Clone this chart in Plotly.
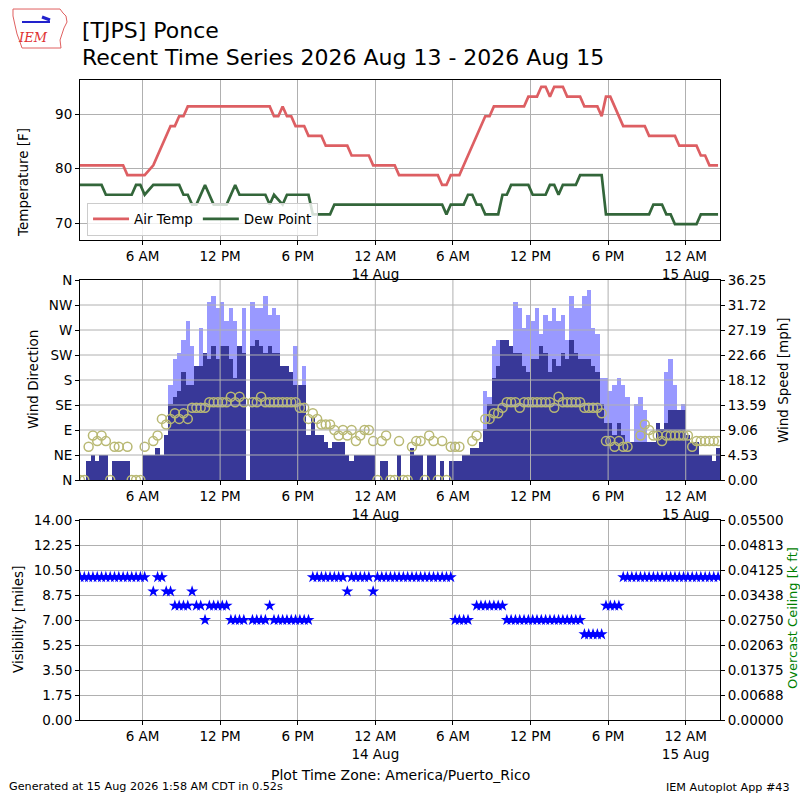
import pandas as pd
import plotly.graph_objects as go

# station reports come every 20 minutes, first one at 01:10 local time
obs_start = "2026-08-13 01:10"
obs_count = 149

# air temperature and dew point, only the times where the value changes [F]
temp_times = [
    "2026-08-13 01:10", "2026-08-13 04:30", "2026-08-13 04:50", "2026-08-13 06:10",
    "2026-08-13 06:50", "2026-08-13 07:10", "2026-08-13 07:30", "2026-08-13 07:50",
    "2026-08-13 08:10", "2026-08-13 08:30", "2026-08-13 08:50", "2026-08-13 09:10",
    "2026-08-13 09:30", "2026-08-13 15:50", "2026-08-13 16:10", "2026-08-13 16:30",
    "2026-08-13 16:50", "2026-08-13 17:10", "2026-08-13 17:30", "2026-08-13 17:50",
    "2026-08-13 18:30", "2026-08-13 18:50", "2026-08-13 19:50", "2026-08-13 20:10",
    "2026-08-13 21:50", "2026-08-13 22:10", "2026-08-13 23:30", "2026-08-13 23:50",
    "2026-08-14 01:30", "2026-08-14 01:50", "2026-08-14 04:50", "2026-08-14 05:10",
    "2026-08-14 05:30", "2026-08-14 05:50", "2026-08-14 06:30", "2026-08-14 06:50",
    "2026-08-14 07:10", "2026-08-14 07:30", "2026-08-14 07:50", "2026-08-14 08:10",
    "2026-08-14 08:30", "2026-08-14 08:50", "2026-08-14 09:10", "2026-08-14 11:30",
    "2026-08-14 11:50", "2026-08-14 12:30", "2026-08-14 12:50", "2026-08-14 13:10",
    "2026-08-14 13:30", "2026-08-14 13:50", "2026-08-14 14:30", "2026-08-14 14:50",
    "2026-08-14 15:50", "2026-08-14 16:10", "2026-08-14 17:10", "2026-08-14 17:30",
    "2026-08-14 17:50", "2026-08-14 18:10", "2026-08-14 18:30", "2026-08-14 18:50",
    "2026-08-14 19:10", "2026-08-14 20:50", "2026-08-14 21:10", "2026-08-14 23:10",
    "2026-08-14 23:30", "2026-08-15 00:50", "2026-08-15 01:10", "2026-08-15 01:30",
    "2026-08-15 01:50", "2026-08-15 02:30",
]
temp_vals = [
    80.6, 80.6, 78.8, 78.8, 80.6, 82.4, 84.2, 86.0, 87.8, 87.8, 89.6, 89.6,
    91.4, 91.4, 89.6, 89.6, 91.4, 89.6, 89.6, 87.8, 87.8, 86.0, 86.0, 84.2,
    84.2, 82.4, 82.4, 80.6, 80.6, 78.8, 78.8, 77.0, 77.0, 78.8, 78.8, 80.6,
    82.4, 84.2, 86.0, 87.8, 89.6, 89.6, 91.4, 91.4, 93.2, 93.2, 95.0, 95.0,
    93.2, 95.0, 95.0, 93.2, 93.2, 91.4, 91.4, 89.6, 93.2, 93.2, 91.4, 89.6,
    87.8, 87.8, 86.0, 86.0, 84.2, 84.2, 82.4, 82.4, 80.6, 80.6,
]

dewp_times = [
    "2026-08-13 01:10", "2026-08-13 02:50", "2026-08-13 03:10", "2026-08-13 05:10",
    "2026-08-13 05:30", "2026-08-13 05:50", "2026-08-13 06:10", "2026-08-13 06:50",
    "2026-08-13 08:50", "2026-08-13 09:10", "2026-08-13 09:30", "2026-08-13 09:50",
    "2026-08-13 10:10", "2026-08-13 10:50", "2026-08-13 11:30", "2026-08-13 12:30",
    "2026-08-13 13:10", "2026-08-13 13:30", "2026-08-13 15:30", "2026-08-13 15:50",
    "2026-08-13 16:10", "2026-08-13 16:50", "2026-08-13 17:10", "2026-08-13 18:50",
    "2026-08-13 19:10", "2026-08-13 20:30", "2026-08-13 20:50", "2026-08-14 05:10",
    "2026-08-14 05:30", "2026-08-14 05:50", "2026-08-14 06:50", "2026-08-14 07:10",
    "2026-08-14 07:30", "2026-08-14 07:50", "2026-08-14 08:10", "2026-08-14 08:30",
    "2026-08-14 09:30", "2026-08-14 09:50", "2026-08-14 10:10", "2026-08-14 10:30",
    "2026-08-14 11:50", "2026-08-14 12:10", "2026-08-14 13:10", "2026-08-14 13:30",
    "2026-08-14 13:50", "2026-08-14 14:10", "2026-08-14 14:30", "2026-08-14 15:30",
    "2026-08-14 15:50", "2026-08-14 17:30", "2026-08-14 17:50", "2026-08-14 21:10",
    "2026-08-14 21:30", "2026-08-14 22:10", "2026-08-14 22:30", "2026-08-14 22:50",
    "2026-08-14 23:10", "2026-08-15 00:50", "2026-08-15 01:10", "2026-08-15 02:30",
]
dewp_vals = [
    77.0, 77.0, 75.2, 75.2, 77.0, 77.0, 75.2, 77.0, 77.0, 75.2, 75.2, 73.4,
    73.4, 77.0, 73.4, 73.4, 77.0, 75.2, 75.2, 73.4, 75.2, 73.4, 75.2, 75.2,
    71.6, 71.6, 73.4, 73.4, 71.6, 73.4, 73.4, 75.2, 75.2, 73.4, 73.4, 71.6,
    71.6, 75.2, 75.2, 77.0, 77.0, 75.2, 75.2, 77.0, 77.0, 75.2, 77.0, 77.0,
    78.8, 78.8, 71.6, 71.6, 73.4, 73.4, 71.6, 71.6, 69.8, 69.8, 71.6, 71.6,
]

# one value per report (149 reports), None = not reported
wind_dir = [
    0,
    0, 60, 80, 70, 80, 70, 0, 60, 60, None,
    60, 0, 0, 0, 60, None, 70, 80, 110, 100,
    110, 120, 110, 120, 110, 130, 130, 130, 130, 140,
    140, 140, 140, 140, 150, 140, 150, 140, None, 140,
    140, 150, 140, 140, 140, 140, 140, 140, 140, 140,
    130, 130, 110, 120, 110, 100, 100, 100, 90, 80,
    90, 80, 90, 70, 80, 90, 90, 70, 0, 70,
    80, 0, 0, 70, 0, 0, 60, 70, 70, 0,
    80, 70, 0, 70, 0, 60, 60, 60, None, None,
    70, 80, None, 110, 110, 120, 120, 130, 140, 140,
    140, 130, 140, 140, 140, 140, 140, 140, 140, 130,
    150, 140, 140, 140, 140, 140, 130, 130, 130, 130,
    120, 70, 70, 60, 70, 60, 60, None, None, 80,
    100, 90, 80, 80, 70, 80, 80, 80, 80, 80,
    80, 60, 70, 70, 70, 70, 70, 70,
]

wind_speed = [
    0,
    0, 3.5, 4.6, 3.5, 4.6, 4.6, 0, 3.5, 3.5, 3.5,
    3.5, 0, 0, 0, 4.6, 4.6, 4.6, 5.8, 4.6, 8.1,
    13.8, 15.0, 16.1, 19.6, 17.3, 17.3, 20.7, 20.7, 23.0, 21.9,
    24.2, 21.9, 24.2, 24.2, 21.9, 18.4, 24.2, 23.0, None, 24.2,
    25.3, 24.2, 23.0, 24.2, 23.0, 23.0, 20.7, 20.7, 19.6, 17.3,
    17.3, 17.3, 8.1, 11.5, 8.1, 8.1, 6.9, 5.8, 6.9, 6.9,
    6.9, 4.6, 3.5, 4.6, 4.6, 4.6, 4.6, 4.6, 0, 3.5,
    3.5, 0, 0, 4.6, 0, 0, 5.8, 4.6, 4.6, 0,
    4.6, 4.6, 0, 3.5, 0, 3.5, 3.5, 3.5, 4.6, 4.6,
    5.8, 5.8, 6.9, 9.2, 13.8, 18.4, 20.7, 25.3, 25.3, 24.2,
    23.0, 23.0, 20.7, 19.6, 21.9, 21.9, 24.2, 23.0, 19.6, 21.9,
    20.7, 23.0, 21.9, 25.3, 23.0, 21.9, 21.9, 21.9, 20.7, 19.6,
    13.8, 10.4, 10.4, 8.1, 10.4, 8.1, 6.9, 6.9, 6.9, 6.9,
    6.9, 6.9, 6.9, 10.4, 9.2, 10.4, 12.7, 12.7, 12.7, 12.7,
    8.1, 6.9, 6.9, 4.6, 4.6, 4.6, 3.5, 5.8,
]

wind_gust = [
    None,
    None, None, None, None, None, None, None, None, None, None,
    None, None, None, None, None, None, None, None, None, None,
    17.3, 21.9, 23.0, 25.3, 28.8, 24.2, None, 27.6, None, 32.2,
    33.4, 31.1, 32.2, 28.8, 31.1, 28.8, None, 31.1, None, 32.2,
    31.1, 31.1, 33.4, 29.9, 31.1, 29.9, None, None, None, 24.2,
    None, 20.7, None, None, None, None, None, None, None, None,
    None, None, None, None, None, None, None, None, None, None,
    None, None, None, None, None, None, None, None, None, None,
    None, None, None, None, None, None, None, None, None, None,
    None, None, None, 16.1, 15.0, 24.2, 25.3, None, None, None,
    32.2, 31.1, 27.6, 29.9, 28.8, 31.1, 26.5, 29.9, 28.8, 31.1,
    28.8, 29.9, 25.3, 33.4, 31.1, 31.1, 33.4, 34.5, 27.6, 26.5,
    18.4, 18.4, 16.1, 17.3, 18.4, 17.3, 15.0, None, 13.8, 15.0,
    12.7, None, None, None, None, 19.6, 21.9, 17.3, None, 13.8,
    None, None, None, None, None, None, None, None,
]

visibility = [
    10,
    10, 10, 10, 10, 10, 10, 10, 10, 10, 10,
    10, 10, 10, 10, 10, None, 9, 10, 10, 9,
    9, 8, 8, 8, 8, 9, 8, 8, 7, 8,
    8, 8, 8, 8, 7, 7, 7, 7, None, 7,
    7, 7, 7, 8, 7, 7, 7, 7, 7, 7,
    7, 7, 7, 10, 10, 10, 10, 10, 10, 10,
    10, 9, 10, 10, 10, 10, 10, 9, 10, 10,
    10, 10, 10, 10, 10, 10, 10, 10, 10, 10,
    10, 10, 10, 10, 10, 10, 7, 7, 7, 7,
    None, 8, 8, 8, 8, 8, 8, 8, 7, 7,
    7, 7, 7, 7, 7, 7, 7, 7, 7, 7,
    7, 7, 7, 7, 7, 7, 6, 6, 6, 6,
    6, 8, 8, 8, 8, 10, 10, 10, 10, 10,
    10, 10, 10, 10, 10, 10, 10, 10, 10, 10,
    10, 10, 10, 10, 10, 10, 10, 10,
]

# axis ticks
x_range = ["2026-08-13 01:10", "2026-08-15 02:39"]
x_tickvals = [
    "2026-08-13 06:00", "2026-08-13 12:00", "2026-08-13 18:00", "2026-08-14 00:00",
    "2026-08-14 06:00", "2026-08-14 12:00", "2026-08-14 18:00", "2026-08-15 00:00",
]
x_ticktext = ["6 AM", "12 PM", "6 PM", "12 AM<br>14 Aug", "6 AM", "12 PM", "6 PM", "12 AM<br>15 Aug"]
dir_ticks = [0, 45, 90, 135, 180, 225, 270, 315, 360]
dir_labels = ["N", "NE", "E", "SE", "S", "SW", "W", "NW", "N"]
speed_top = 36.25
speed_labels = ["0.00", "4.53", "9.06", "13.59", "18.12", "22.66", "27.19", "31.72", "36.25"]
vis_ticks = [0, 1.75, 3.5, 5.25, 7.0, 8.75, 10.5, 12.25, 14.0]
vis_labels = ["0.00", "1.75", "3.50", "5.25", "7.00", "8.75", "10.50", "12.25", "14.00"]
ceil_top = 0.055
ceil_labels = ["0.00000", "0.00688", "0.01375", "0.02063", "0.02750", "0.03438", "0.04125", "0.04813", "0.05500"]

FONT = "DejaVu Sans"
GRID = "#b0b0b0"
TICK_SIZE = 13.5


def px2paper(x, y):
    # figure pixel -> paper coords (plot area is 80..720 both ways)
    return (x - 80) / 640.0, (720 - y) / 640.0


def add_text(fig, text, x, y, size, angle=0, xanchor="center", color="black", family=FONT):
    px, py = px2paper(x, y)
    fig.add_annotation(text=text, x=px, y=py, xref="paper", yref="paper", showarrow=False,
                       xanchor=xanchor, yanchor="middle", textangle=angle,
                       font=dict(family=family, size=size, color=color))


obs_times = pd.date_range(obs_start, periods=obs_count, freq="20min")
bar_ms = 20 * 60 * 1000

fig = go.Figure()

# top panel
fig.add_trace(go.Scatter(x=temp_times, y=temp_vals, mode="lines", name="Air Temp",
                         line=dict(color="#dd5f63", width=2.7), xaxis="x", yaxis="y"))
fig.add_trace(go.Scatter(x=dewp_times, y=dewp_vals, mode="lines", name="Dew Point",
                         line=dict(color="#33663a", width=2.7), xaxis="x", yaxis="y"))

# middle panel: gust behind speed, direction circles on top
fig.add_trace(go.Bar(x=obs_times, y=wind_gust, width=bar_ms, showlegend=False,
                     marker=dict(color="#9999ff", line=dict(width=0)), xaxis="x2", yaxis="y2"))
fig.add_trace(go.Bar(x=obs_times, y=wind_speed, width=bar_ms, showlegend=False,
                     marker=dict(color="#383898", line=dict(width=0)), xaxis="x2", yaxis="y2"))
fig.add_trace(go.Scatter(x=obs_times, y=wind_dir, mode="markers", showlegend=False,
                         marker=dict(symbol="circle-open", size=9, color="#b9b974",
                                     line=dict(width=1.5)),
                         xaxis="x2", yaxis="y3"))

# bottom panel
fig.add_trace(go.Scatter(x=obs_times, y=visibility, mode="markers", showlegend=False,
                         marker=dict(symbol="star", size=9, color="#0000ff", line=dict(width=0)),
                         xaxis="x3", yaxis="y4"))
fig.add_trace(go.Scatter(x=[], y=[], showlegend=False, xaxis="x3", yaxis="y5"))

axis_style = dict(showline=True, linecolor="black", linewidth=1, ticks="outside", ticklen=4,
                  tickcolor="black", gridcolor=GRID, gridwidth=1, zeroline=False,
                  automargin=False,
                  tickfont=dict(family=FONT, size=TICK_SIZE, color="black"))
x_style = dict(axis_style, type="date", range=x_range, tickmode="array",
               tickvals=x_tickvals, ticktext=x_ticktext, mirror=True, domain=[0, 1])

fig.update_layout(
    width=800, height=800,
    margin=dict(l=80, r=80, t=80, b=80, autoexpand=False),
    paper_bgcolor="white", plot_bgcolor="white",
    font=dict(family=FONT, color="black"),
    barmode="overlay", bargap=0,
    xaxis=dict(x_style, anchor="y", showgrid=True),
    xaxis2=dict(x_style, anchor="y2", showgrid=False),
    xaxis3=dict(x_style, anchor="y4", showgrid=True),
    yaxis=dict(axis_style, domain=[0.75, 1.0], anchor="x", range=[66.9, 96.25],
               tickvals=[70, 80, 90], mirror=True, showgrid=True),
    yaxis2=dict(axis_style, domain=[0.375, 0.6875], anchor="x2", side="right",
                range=[0, speed_top], tickmode="array",
                tickvals=[speed_top * i / 8 for i in range(9)], ticktext=speed_labels,
                showgrid=False),
    yaxis3=dict(axis_style, overlaying="y2", anchor="x2", side="left", range=[0, 360],
                tickmode="array", tickvals=dir_ticks, ticktext=dir_labels, showgrid=False),
    yaxis4=dict(axis_style, domain=[0, 0.3125], anchor="x3", range=[0, 14],
                tickmode="array", tickvals=vis_ticks, ticktext=vis_labels, showgrid=True),
    yaxis5=dict(axis_style, overlaying="y4", anchor="x3", side="right", range=[0, ceil_top],
                tickmode="array", tickvals=[ceil_top * i / 8 for i in range(9)],
                ticktext=ceil_labels, showgrid=False),
    legend=dict(orientation="h", x=0.011, y=0.757, xanchor="left", yanchor="bottom",
                bgcolor="rgba(255,255,255,0.8)", bordercolor="#cccccc", borderwidth=1,
                font=dict(family=FONT, size=13.5), itemwidth=36),
)

# middle panel grid has to sit on top of the bars (like matplotlib does)
for d in dir_ticks[1:-1]:
    fig.add_shape(type="line", xref="x2 domain", x0=0, x1=1, yref="y3", y0=d, y1=d,
                  line=dict(color=GRID, width=1), layer="above")
for t in x_tickvals:
    fig.add_shape(type="line", xref="x2", x0=t, x1=t, yref="y3 domain", y0=0, y1=1,
                  line=dict(color=GRID, width=1), layer="above")

# axis titles (placed by hand, plotly would squeeze the plot area otherwise)
add_text(fig, "Temperature [F]", 23, 183, 13.5, angle=-90)
add_text(fig, "Wind Direction", 33, 380, 13.5, angle=-90)
add_text(fig, "Visibility [miles]", 18, 620, 13.5, angle=-90)
add_text(fig, "Wind Speed [mph]", 783, 380, 13.5, angle=-90)
add_text(fig, "Overcast Ceiling [k ft]", 792, 618, 13, angle=-90, color="green")

# titles and footer
add_text(fig, "[TJPS] Ponce", 80, 30, 22, xanchor="left")
add_text(fig, "Recent Time Series 2026 Aug 13 - 2026 Aug 15", 80, 57, 22, xanchor="left")
add_text(fig, "Plot Time Zone: America/Puerto_Rico", 400, 775, 14)
add_text(fig, "Generated at 15 Aug 2026 1:58 AM CDT in 0.52s", 7, 786, 11.2, xanchor="left")
add_text(fig, "IEM Autoplot App #43", 792, 787, 11.2, xanchor="right")

# small IEM logo, top left
outline = [(13, 9), (60, 9), (63, 13), (66, 16), (67, 22), (64, 28), (62, 34), (60, 40),
           (61, 48), (22, 48), (20, 42), (17, 34), (15, 25), (13, 16)]
pts = [px2paper(x, y) for x, y in outline]
path = "M " + " L ".join(f"{x:.4f},{y:.4f}" for x, y in pts) + " Z"
fig.add_shape(type="path", path=path, xref="paper", yref="paper",
              line=dict(color="#e06060", width=1), fillcolor="rgba(0,0,0,0)")
x0, y0 = px2paper(22, 22)
x1, y1 = px2paper(50, 22)
fig.add_shape(type="line", x0=x0, y0=y0, x1=x1, y1=y1, xref="paper", yref="paper",
              line=dict(color="#2222cc", width=2))
x0, y0 = px2paper(42, 17)
x1, y1 = px2paper(50, 20)
fig.add_shape(type="line", x0=x0, y0=y0, x1=x1, y1=y1, xref="paper", yref="paper",
              line=dict(color="#2222cc", width=3))
add_text(fig, "IEM", 33, 38, 13, color="#e03030", family="DejaVu Serif")
fig.layout.annotations[-1].font.style = "italic"

# page body has a default 8px margin which pushes the 800px figure off screen
fig.write_html("out.html", config={"displayModeBar": False},
               post_script="document.body.style.margin='0px';")
